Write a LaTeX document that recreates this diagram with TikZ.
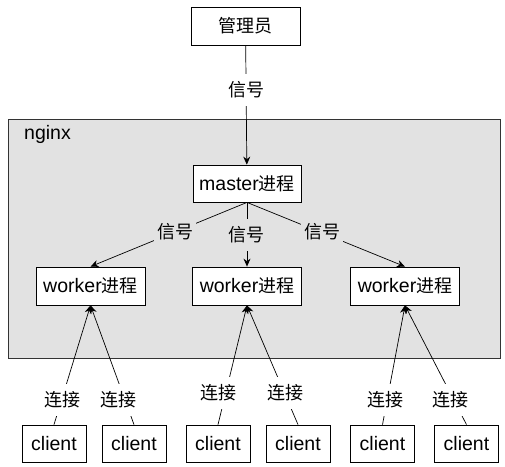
\documentclass[tikz,border=0pt]{standalone}
\usepackage{fontspec}
\setmainfont{Liberation Sans}
\newfontfamily\cjk[Scale=0.923]{Noto Sans CJK SC}
\newcommand\zhtxt[1]{{\cjk #1}}
\usetikzlibrary{arrows.meta}
\definecolor{bggray}{HTML}{E2E2E2}
\begin{document}
\begin{tikzpicture}[x=1pt,y=-1pt, font=\fontsize{19.5}{22}\selectfont,
  box/.style={draw=black, fill=white, line width=0.8pt, inner sep=0pt, minimum height=38pt},
  wbox/.style={box, minimum width=109pt},
  cbox/.style={box, minimum width=64pt, minimum height=37pt},
  lbl/.style={inner xsep=3pt, inner ysep=8pt, fill=white},
  glbl/.style={lbl, fill=bggray},
  arr/.style={line width=0.7pt, -{Stealth[length=8pt,width=7pt]}}]
\useasboundingbox (0,0) rectangle (505,466);
\node[draw=black!80, fill=bggray, minimum width=492pt, minimum height=239pt, inner sep=0pt, line width=0.9pt] (ngx) at (254,238.5) {};
\node[anchor=west, inner sep=0pt] (ngxl) at (24,134) {nginx};
\node[box, minimum width=109pt] (admin) at (245.5,26) {\zhtxt{管理员}};
\node[box, minimum width=108pt, minimum height=37pt] (master) at (247,183.5) {master\zhtxt{进程}};
\node[wbox] (w1) at (90.5,286) {worker\zhtxt{进程}};
\node[wbox] (w2) at (247,286) {worker\zhtxt{进程}};
\node[wbox] (w3) at (405,286) {worker\zhtxt{进程}};
\node[cbox] (c1) at (54,443.5) {client};
\node[cbox] (c2) at (134,443.5) {client};
\node[cbox] (c3) at (218,443.5) {client};
\node[cbox] (c4) at (298,443.5) {client};
\node[cbox] (c5) at (382.5,443.5) {client};
\node[cbox] (c6) at (466.5,443.5) {client};
\draw[arr] (admin) -- (master);
\draw[arr] (master.south) -- (w1.north);
\draw[arr] (master.south) -- (w2.north);
\draw[arr] (master.south) -- (w3.north);
\draw[arr] (c1.north) -- (w1.south);
\draw[arr] (c2.north) -- (w1.south);
\draw[arr] (c3.north) -- (w2.south);
\draw[arr] (c4.north) -- (w2.south);
\draw[arr] (c5.north) -- (w3.south);
\draw[arr] (c6.north) -- (w3.south);
\node[lbl] (s0) at (246,90) {\zhtxt{信号}};
\node[glbl] (s1) at (175,232) {\zhtxt{信号}};
\node[glbl] (s2) at (246,235) {\zhtxt{信号}};
\node[glbl] (s3) at (322,232) {\zhtxt{信号}};
\node[lbl] (l1) at (62,400) {\zhtxt{连接}};
\node[lbl] (l2) at (118,400) {\zhtxt{连接}};
\node[lbl] (l3) at (218,393) {\zhtxt{连接}};
\node[lbl] (l4) at (285,393) {\zhtxt{连接}};
\node[lbl] (l5) at (385,400) {\zhtxt{连接}};
\node[lbl] (l6) at (450,400) {\zhtxt{连接}};
\end{tikzpicture}
\end{document}
